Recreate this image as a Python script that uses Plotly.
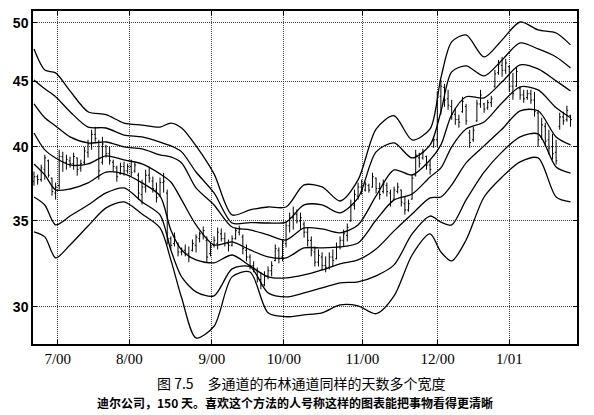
import math
import plotly.graph_objects as go

# Deere & Co., 150 trading days (Jun 2000 - Jan 2001), price bars
day = list(range(150))

bar_high = [38.25, 38.04, 38.73, 39.43, 39.08, 37.84, 37.50, 39.78, 39.64, 39.43,
            39.29, 39.57, 39.22, 39.08, 39.99, 40.50, 41.24, 41.46, 40.50, 40.72,
            40.14, 39.99, 39.08, 38.66, 38.87, 38.94, 38.80, 39.08, 38.87, 38.17,
            37.70, 38.38, 38.59, 37.91, 37.50, 37.84, 38.17, 37.03, 34.04, 34.28,
            33.67, 33.37, 33.55, 33.43, 33.85, 34.16, 34.34, 34.65, 34.04, 33.67,
            34.04, 34.59, 34.53, 34.28, 33.85, 34.10, 34.59, 34.71, 34.16, 33.55,
            32.96, 32.55, 32.19, 31.91, 31.97, 32.25, 32.55, 33.55, 33.37, 33.85,
            34.96, 35.53, 35.92, 35.72, 35.53, 34.96, 34.59, 34.04, 33.43, 33.25,
            33.08, 32.84, 33.08, 33.25, 33.67, 34.04, 34.46, 34.84, 36.37, 37.03,
            37.50, 37.70, 37.56, 37.43, 38.17, 37.84, 37.50, 37.70, 37.50, 37.03,
            37.23, 37.50, 37.03, 36.57, 36.37, 38.04, 39.78, 39.57, 39.85, 39.36,
            39.08, 40.72, 44.15, 45.11, 44.79, 44.31, 43.52, 42.90, 42.37, 43.76,
            43.21, 41.24, 41.46, 43.52, 44.31, 43.29, 43.52, 43.83, 45.93, 46.76,
            47.01, 46.84, 46.34, 45.68, 46.17, 44.55, 44.31, 44.31, 44.31, 44.15,
            42.75, 42.14, 41.76, 41.24, 40.94, 40.50, 42.52, 42.60, 43.06, 42.37]

bar_low = [37.29, 37.36, 37.56, 37.70, 37.84, 36.63, 36.37, 37.03, 38.24, 38.38,
           38.52, 38.38, 37.97, 38.24, 38.73, 39.22, 39.78, 40.36, 37.70, 38.73,
           39.22, 38.73, 38.24, 37.56, 38.04, 37.97, 38.11, 37.91, 38.17, 36.37,
           36.05, 36.83, 37.50, 36.83, 36.18, 36.57, 36.83, 33.55, 33.25, 33.43,
           32.84, 32.90, 32.84, 32.49, 33.13, 33.07, 33.67, 33.85, 32.49, 32.84,
           33.37, 33.25, 33.73, 33.43, 33.13, 33.43, 33.85, 34.10, 32.96, 32.55,
           32.08, 31.91, 31.34, 30.95, 31.12, 31.51, 31.68, 32.55, 32.43, 32.55,
           33.37, 34.28, 34.46, 34.84, 34.46, 33.97, 33.43, 32.84, 32.25, 32.25,
           32.02, 31.91, 32.08, 32.25, 32.66, 33.25, 33.43, 33.73, 34.96, 35.72,
           36.37, 36.70, 36.90, 36.83, 37.16, 36.77, 36.37, 36.77, 36.57, 35.92,
           36.37, 36.77, 35.92, 35.40, 35.59, 36.37, 37.91, 38.52, 39.08, 38.38,
           38.04, 39.92, 39.99, 42.37, 42.97, 42.75, 41.99, 41.61, 41.39, 42.52,
           41.61, 39.92, 40.36, 41.84, 42.90, 42.52, 42.75, 42.97, 44.47, 45.52,
           45.36, 45.60, 44.15, 43.52, 44.55, 43.52, 43.29, 43.52, 43.21, 42.22,
           39.99, 40.50, 39.99, 39.43, 39.08, 38.73, 41.24, 41.61, 41.84, 41.46]

bar_open = [37.6, 37.9, 37.7, 38.4, 39.0, 37.8, 36.8, 37.3, 39.3, 38.9,
            39.0, 38.8, 39.2, 38.5, 38.9, 39.6, 40.2, 40.9, 40.3, 38.9,
            40.0, 39.5, 38.9, 38.5, 38.1, 38.6, 38.3, 38.6, 38.3, 38.0,
            36.7, 37.2, 38.0, 37.6, 37.0, 36.6, 37.5, 36.8, 33.9, 33.6,
            33.6, 33.1, 33.2, 33.0, 33.2, 33.5, 33.9, 34.2, 33.8, 33.0,
            33.5, 33.6, 34.2, 33.9, 33.6, 33.5, 33.9, 34.3, 34.0, 33.2,
            32.8, 32.3, 32.0, 31.5, 31.2, 31.7, 32.0, 32.6, 33.2, 32.8,
            33.6, 34.7, 35.2, 35.4, 35.0, 34.8, 34.3, 33.8, 33.1, 32.5,
            32.8, 32.3, 32.2, 32.8, 32.7, 33.4, 33.8, 34.1, 35.0, 36.0,
            36.6, 37.2, 37.0, 37.3, 37.2, 37.8, 37.1, 36.9, 37.3, 36.8,
            36.4, 36.9, 37.0, 36.1, 35.7, 36.4, 38.0, 39.2, 39.2, 39.3,
            38.7, 40.0, 40.5, 43.8, 44.5, 43.6, 43.0, 42.4, 42.0, 42.6,
            43.0, 41.0, 40.5, 41.9, 43.2, 43.2, 42.9, 43.3, 44.6, 45.7,
            46.3, 45.9, 46.2, 44.6, 44.6, 44.4, 43.9, 43.7, 44.0, 43.5,
            42.5, 40.7, 41.5, 40.5, 40.0, 39.6, 41.5, 42.2, 42.0, 42.3]

bar_close = [37.9, 37.7, 38.5, 39.2, 38.0, 36.9, 37.2, 39.3, 38.9, 39.1,
             38.8, 39.3, 38.4, 38.8, 39.7, 40.2, 40.9, 40.6, 38.3, 40.2,
             39.5, 39.0, 38.6, 37.9, 38.6, 38.3, 38.6, 38.2, 38.7, 36.8,
             37.2, 38.0, 37.8, 37.1, 36.5, 37.5, 37.6, 33.9, 33.5, 34.0,
             33.1, 33.2, 33.0, 32.8, 33.6, 34.0, 34.2, 34.4, 32.8, 33.4,
             33.8, 34.3, 33.9, 33.6, 33.5, 33.9, 34.4, 34.5, 33.3, 32.8,
             32.3, 32.1, 31.6, 31.2, 31.7, 32.0, 32.3, 33.3, 32.7, 33.7,
             34.7, 35.2, 35.5, 35.0, 35.2, 34.3, 33.8, 33.2, 32.5, 32.9,
             32.3, 32.2, 32.8, 32.6, 33.4, 33.8, 34.2, 34.6, 36.0, 36.7,
             37.2, 37.0, 37.4, 37.0, 37.9, 37.1, 36.7, 37.4, 36.9, 36.2,
             37.0, 37.2, 36.2, 35.7, 36.1, 37.8, 39.4, 38.8, 39.6, 38.7,
             38.4, 40.5, 43.7, 44.6, 43.5, 43.1, 42.4, 42.0, 41.8, 43.4,
             41.9, 40.3, 41.2, 43.2, 43.9, 42.8, 43.3, 43.6, 45.6, 46.4,
             45.9, 46.5, 44.6, 44.0, 45.8, 43.9, 43.6, 44.0, 43.5, 42.6,
             40.5, 41.6, 40.4, 39.9, 39.5, 39.0, 42.2, 41.9, 42.7, 42.0]

# Bollinger bands (same length, several widths), read at these days
band_day = [0, 3, 6, 10, 15, 20, 25, 30, 35, 38, 41, 45, 50, 55, 60, 65, 70,
            75, 80, 85, 90, 95, 100, 105, 110, 113, 116, 120, 125, 130, 135,
            140, 145, 149]

upper3 = [47.69, 45.92, 45.68, 44.22, 42.60, 42.37, 41.74, 41.59, 41.44, 41.74,
          41.37, 40.06, 38.09, 35.38, 35.70, 35.89, 35.89, 37.34, 37.21, 36.28,
          37.68, 41.29, 42.29, 40.49, 41.30, 45.27, 48.30, 48.91, 47.01, 48.47,
          50.06, 49.35, 49.08, 48.04]
upper2 = [45.11, 44.39, 43.76, 42.60, 41.44, 41.37, 40.85, 40.71, 40.34, 40.06,
          39.63, 38.22, 36.81, 34.87, 34.90, 34.87, 34.93, 36.02, 36.02, 35.51,
          36.48, 39.63, 40.27, 39.20, 40.13, 42.60, 45.76, 46.26, 45.43, 46.76,
          48.21, 47.69, 47.01, 46.09]
upper1 = [43.21, 42.14, 41.52, 40.71, 40.27, 40.34, 39.99, 39.84, 39.42, 39.27,
          38.85, 37.14, 36.02, 34.62, 34.44, 34.13, 33.82, 34.56, 34.50, 34.26,
          34.75, 36.61, 38.36, 38.02, 39.06, 40.13, 42.37, 43.76, 43.68, 44.95,
          46.34, 46.01, 45.03, 44.22]
middle = [41.00, 39.77, 39.20, 38.71, 38.78, 39.35, 39.06, 38.78, 38.09, 37.54,
          36.35, 34.75, 33.52, 33.70, 33.22, 32.81, 32.75, 33.34, 33.34, 33.40,
          33.64, 35.06, 36.35, 36.74, 37.88, 38.50, 39.99, 41.29, 41.82, 43.29,
          44.55, 44.30, 42.90, 42.14]
lower1 = [38.78, 38.02, 37.01, 37.07, 37.48, 38.22, 38.09, 37.48, 36.61, 34.44,
          33.22, 32.63, 32.46, 32.92, 32.28, 31.65, 31.59, 31.76, 32.05, 32.40,
          32.63, 33.28, 34.38, 35.44, 36.48, 36.54, 37.34, 38.85, 40.06, 41.29,
          42.67, 42.67, 40.71, 40.13]
lower2 = [36.54, 36.02, 34.75, 35.31, 36.02, 36.81, 37.14, 36.22, 35.38, 33.22,
          31.65, 30.81, 30.59, 32.11, 32.23, 30.75, 30.53, 30.75, 31.03, 31.31,
          31.37, 31.71, 32.34, 34.19, 35.31, 34.93, 34.75, 36.35, 38.22, 39.63,
          40.71, 40.93, 38.57, 38.15]
lower3 = [34.32, 34.01, 32.75, 33.52, 34.68, 35.83, 36.22, 35.44, 34.56, 32.63,
          30.48, 28.36, 28.96, 31.65, 31.93, 29.67, 29.46, 29.56, 29.67, 30.09,
          30.04, 29.62, 30.59, 32.92, 34.19, 33.10, 32.57, 33.82, 36.54, 37.88,
          38.92, 39.20, 36.54, 36.22]

month_pos = [6.6, 26.5, 49.4, 69.4, 91.2, 112.1, 132.0]
month_labels = ['7/00', '8/00', '9/00', '10/00', '11/00', '12/00', '1/01']
price_ticks = [30, 35, 40, 45, 50]

fig = go.Figure()

# band lines
for band in [upper3, upper2, upper1, middle, lower1, lower2, lower3]:
    fig.add_trace(go.Scatter(x=band_day, y=band, mode='lines',
                             line=dict(color='black', width=1.3,
                                       shape='spline', smoothing=0.8),
                             hoverinfo='skip'))

# price bars
fig.add_trace(go.Ohlc(x=day, open=bar_open, high=bar_high, low=bar_low,
                      close=bar_close, tickwidth=0.35,
                      increasing=dict(line=dict(color='black', width=1)),
                      decreasing=dict(line=dict(color='black', width=1))))

# the page body adds 8px around the figure, so the figure is 8px smaller
fig.update_layout(
    width=586, height=407,
    margin=dict(l=25, r=17, t=3, b=71),
    paper_bgcolor='white', plot_bgcolor='white',
    showlegend=False,
    xaxis=dict(range=[-0.28, 150.8], tickvals=month_pos, ticktext=month_labels,
               showgrid=True, gridcolor='#444', griddash='1px,1px', gridwidth=1,
               zeroline=False, showline=True, linecolor='black', linewidth=1.5,
               mirror='ticks', ticks='inside', ticklen=4, tickcolor='black',
               automargin=False,
               tickfont=dict(family='Liberation Serif', size=15, color='black'),
               rangeslider=dict(visible=False)),
    yaxis=dict(type='log', range=[math.log10(28.05), math.log10(51.06)],
               tickvals=price_ticks, ticktext=[str(v) for v in price_ticks],
               showgrid=True, gridcolor='#444', griddash='1px,1px', gridwidth=1,
               zeroline=False, showline=True, linecolor='black', linewidth=1.5,
               mirror='ticks', ticks='inside', ticklen=4, tickcolor='black',
               automargin=False,
               tickfont=dict(family='Liberation Sans', size=14, color='black',
                             weight='bold')),
)

# figure caption
fig.add_annotation(text='图 7.5　多通道的布林通道同样的天数多个宽度',
                   xref='paper', yref='paper', x=0.494, y=-0.117,
                   xanchor='center', yanchor='middle', showarrow=False,
                   font=dict(family='Noto Sans CJK SC', size=14, color='black'))
fig.add_annotation(text='迪尔公司，150 天。喜欢这个方法的人号称这样的图表能把事物看得更清晰',
                   xref='paper', yref='paper', x=0.482, y=-0.177,
                   xanchor='center', yanchor='middle', showarrow=False,
                   font=dict(family='Noto Sans CJK SC', size=12, color='black',
                             weight='bold'))

fig.write_html('out.html')
